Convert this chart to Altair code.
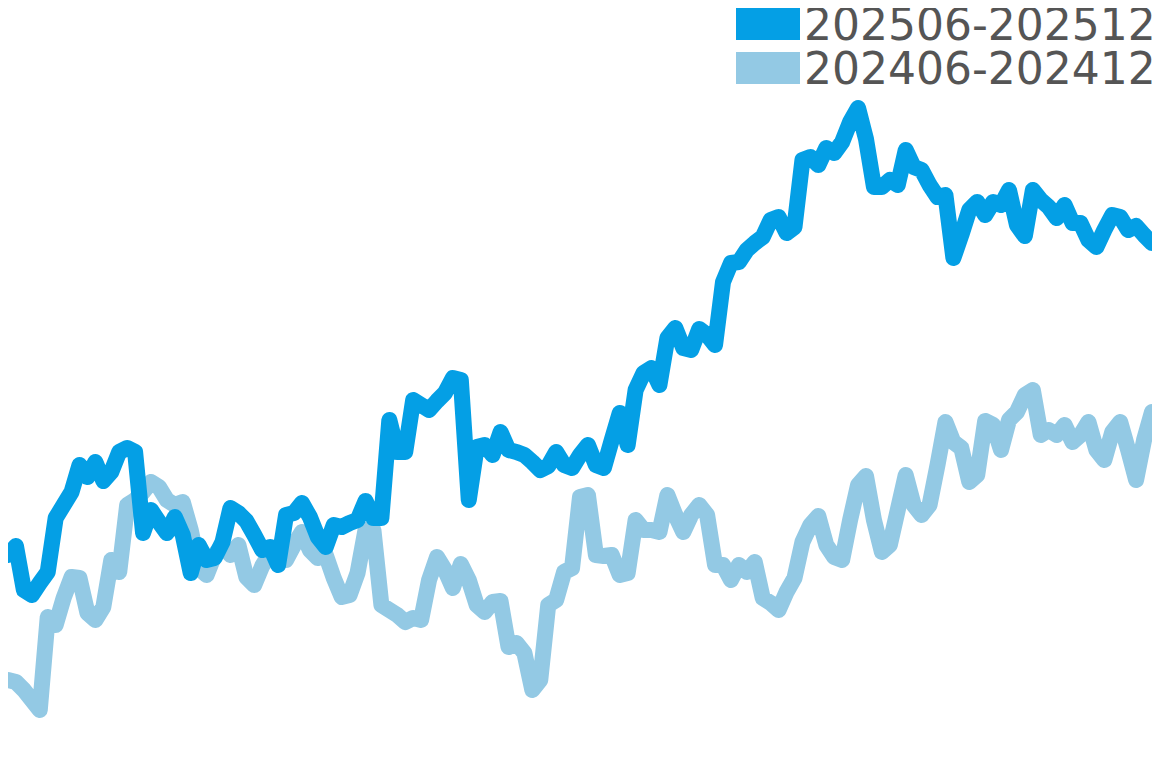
import altair as alt
import pandas as pd

# cumulative change (%) per trading day, one list per half-year window
periods = ["202506-202512", "202406-202412"]
colors = ["#049fe5", "#93c9e4"]

recent = [
    4.5, 5.4, 1.0, 0.5, 1.7, 2.8, 8.2, 9.5, 10.8, 13.5,
    12.3, 13.8, 11.9, 12.8, 14.8, 15.2, 14.8, 6.7, 9.0, 7.8,
    6.7, 8.3, 6.5, 2.7, 5.5, 4.0, 4.2, 5.8, 9.2, 8.7,
    7.9, 6.5, 5.0, 5.3, 3.5, 8.5, 8.7, 9.7, 8.3, 6.3,
    5.3, 7.5, 7.3, 7.7, 8.0, 9.9, 8.2, 8.2, 18.0, 14.8,
    14.8, 20.0, 19.5, 19.0, 19.9, 20.7, 22.2, 22.0, 10.0, 15.3,
    15.5, 14.5, 16.8, 15.0, 14.8, 14.5, 13.8, 13.0, 13.4, 14.8,
    13.5, 13.2, 14.5, 15.5, 13.5, 13.2, 16.0, 18.7, 15.5, 21.0,
    22.7, 23.2, 21.5, 26.2, 27.2, 25.2, 25.0, 27.1, 26.5, 25.5,
    31.8, 33.7, 33.8, 35.0, 35.7, 36.3, 38.0, 38.3, 36.7, 37.3,
    44.0, 44.3, 43.5, 45.2, 44.7, 45.8, 47.8, 49.2, 46.1, 41.3,
    41.3, 42.0, 41.5, 45.0, 43.3, 43.0, 41.5, 40.3, 40.5, 34.2,
    36.5, 39.0, 39.8, 38.5, 39.8, 39.5, 41.0, 37.5, 36.4, 41.0,
    40.0, 39.3, 38.2, 39.5, 37.7, 37.7, 36.0, 35.3, 37.0, 38.5,
    38.3, 37.0, 37.4, 36.5, 35.7,
]

previous = [
    -8.0, -8.2, -9.0, -10.0, -11.0, -1.7, -2.5, 0.2, 2.3, 2.2,
    -1.3, -2.0, -0.7, 4.0, 2.8, 9.5, 10.0, 10.8, 11.8, 11.3,
    10.0, 9.5, 9.8, 7.0, 3.2, 2.5, 4.5, 5.5, 4.5, 5.5,
    2.3, 1.5, 3.4, 4.7, 4.0, 4.0, 5.5, 6.8, 5.0, 4.2,
    4.5, 2.2, 0.3, 0.5, 2.7, 7.0, 7.0, -0.5, -1.0, -1.5,
    -2.2, -1.8, -2.0, 2.0, 4.3, 3.0, 1.2, 3.6, 2.0, -0.5,
    -1.2, -0.2, -0.1, -4.7, -4.3, -5.3, -9.0, -8.0, -0.5, 0.0,
    2.8, 3.2, 10.3, 10.5, 4.5, 4.4, 4.5, 2.5, 2.7, 8.0,
    7.0, 7.0, 6.8, 10.5, 8.5, 6.8, 8.5, 9.5, 8.5, 3.5,
    3.5, 2.0, 3.5, 2.8, 3.8, 0.2, -0.3, -1.0, 0.8, 2.2,
    5.8, 7.5, 8.4, 5.5, 4.3, 4.0, 8.0, 11.5, 12.4, 8.0,
    4.8, 5.5, 9.0, 12.5, 9.5, 8.5, 9.5, 13.5, 17.8, 15.8,
    15.2, 11.8, 12.5, 17.9, 17.5, 15.0, 18.0, 18.8, 20.5, 21.0,
    16.5, 17.0, 16.5, 17.5, 15.8, 16.5, 17.8, 15.0, 14.0, 16.8,
    17.8, 15.0, 12.0, 16.0, 18.8,
]

rows = []
for name, series in zip(periods, [recent, previous]):
    for day, value in enumerate(series):
        rows.append({"day": day, "change": value, "period": name})
df = pd.DataFrame(rows)

# legend swatch: a horizontal stroke drawn 32px thick -> 64x32 block,
# nudged right/up so it sits just before the label; rows clipped to 44px
legend = alt.Legend(
    title=None,
    orient="none",
    legendX=700,
    legendY=-3,
    padding=0,
    symbolType="M-0.625,-0.09375H1.375",
    symbolSize=4096,
    symbolStrokeWidth=32,
    symbolOpacity=1,
    clipHeight=44,
    rowPadding=0,
    labelFont="DejaVu Sans",
    labelFontSize=44,
    labelColor="#555555",
    labelLimit=0,
    labelOffset=0,
)

base = alt.Chart(df).mark_line(
    strokeWidth=16, strokeCap="round", strokeJoin="round"
).encode(
    x=alt.X("day:Q", scale=alt.Scale(domain=[0, 144], nice=False, zero=False), axis=None),
    y=alt.Y("change:Q", scale=alt.Scale(domain=[-14.8, 59.2], nice=False, zero=False), axis=None),
    color=alt.Color("period:N", scale=alt.Scale(domain=periods, range=colors), legend=legend),
)

# older window underneath, current window on top
chart = alt.layer(
    base.transform_filter(alt.datum.period == periods[1]),
    base.transform_filter(alt.datum.period == periods[0]),
).properties(
    width=1144,
    height=740,
    padding=0,
    autosize=alt.AutoSizeParams(type="none"),
).configure_view(strokeWidth=0)

chart.save("out.html", embed_options={"renderer": "svg", "actions": False})
